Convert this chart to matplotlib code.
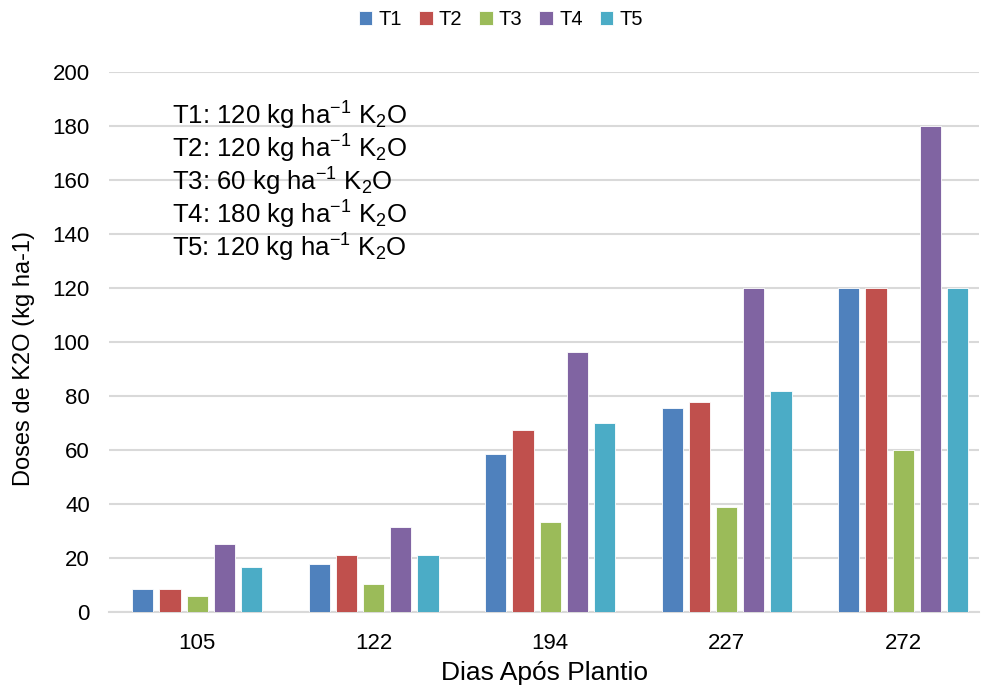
import numpy as np
import matplotlib
matplotlib.use("Agg")
import matplotlib.pyplot as plt

plt.rcParams["font.family"] = ["Liberation Sans", "DejaVu Sans"]
plt.rcParams["mathtext.fontset"] = "custom"
plt.rcParams["mathtext.rm"] = "Liberation Sans"
plt.rcParams["mathtext.default"] = "regular"

# ── data ────────────────────────────────────────────────────────────────────
days = ["105", "122", "194", "227", "272"]
series = ["T1", "T2", "T3", "T4", "T5"]
t1 = [8.4, 17.9, 58.7, 75.6, 120]
t2 = [8.4, 21.0, 67.3, 77.7, 120]
t3 = [5.8, 10.4, 33.5, 38.8, 60]
t4 = [25.2, 31.5, 96.4, 120, 180]
t5 = [16.7, 21.0, 70.0, 81.9, 120]
values = [t1, t2, t3, t4, t5]
colors = ["#4F81BD", "#C0504D", "#9BBB59", "#8064A2", "#4BACC6"]
notes = ["T1: 120 kg ha$^{-1}$ K$_2$O",
         "T2: 120 kg ha$^{-1}$ K$_2$O",
         "T3: 60 kg ha$^{-1}$ K$_2$O",
         "T4: 180 kg ha$^{-1}$ K$_2$O",
         "T5: 120 kg ha$^{-1}$ K$_2$O"]

# ── figure ──────────────────────────────────────────────────────────────────
fig = plt.figure(figsize=(9.84, 6.93), dpi=100)
ax = fig.add_axes([0.111, 0.1169, 0.884, 0.7792])

x = np.arange(len(days))
pitch = 0.154
width = 0.12
for i, (name, vals, c) in enumerate(zip(series, values, colors)):
    ax.bar(x + (i - 2) * pitch, vals, width, color=c, edgecolor="white",
           linewidth=0.6, label=name, zorder=3)

ax.set_xlim(-0.4986, 4.43)
ax.set_ylim(0, 200)
ax.set_yticks(np.arange(0, 201, 20))
ax.set_xticks(x)
ax.set_xticklabels(days)
ax.yaxis.grid(True, color="#D9D9D9", lw=1.5, zorder=0)
ax.set_axisbelow(True)
for s in ["top", "right", "left"]:
    ax.spines[s].set_visible(False)
ax.spines["bottom"].set_color("#D9D9D9")
ax.spines["bottom"].set_linewidth(1.5)
ax.tick_params(length=0, labelsize=16, colors="black")
ax.tick_params(axis="x", pad=15)
ax.tick_params(axis="y", pad=14)

ax.set_xlabel("Dias Após Plantio", fontsize=19, labelpad=5)
ax.set_ylabel("Doses de K2O (kg ha-1)", fontsize=17)
ax.yaxis.set_label_coords(-0.085, 0.469)

for k, t in enumerate(notes):
    ax.text(0.0724, 0.902 - k * 0.0611, t, transform=ax.transAxes,
            fontsize=18.5, va="baseline", ha="left")

fig.legend(*ax.get_legend_handles_labels(), loc="center",
           bbox_to_anchor=(0.509, 0.972), ncol=5, frameon=False, fontsize=14.5,
           handlelength=0.67, handleheight=0.67, handletextpad=0.3,
           columnspacing=0.85)

fig.savefig("out.png", dpi=100)
